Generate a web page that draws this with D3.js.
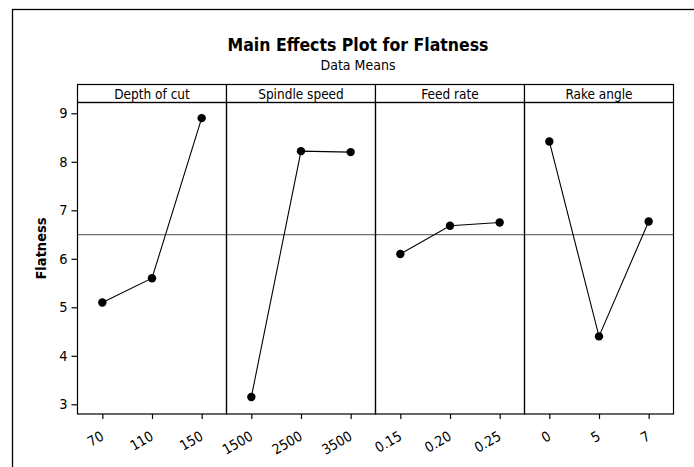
<!DOCTYPE html>
<html>
<head>
<meta charset="utf-8">
<script src="https://cdn.jsdelivr.net/npm/d3@7"></script>
<style>
  html, body { margin: 0; padding: 0; background: #fff; }
  svg { display: block; }
  text { font-family: "DejaVu Sans Condensed", "DejaVu Sans", sans-serif; fill: #000; }
</style>
</head>
<body>
<svg id="chart" width="694" height="467"></svg>
<script>
const factors = ["Depth of cut", "Spindle speed", "Feed rate", "Rake angle"];
const depthLevels = ["70", "110", "150"];
const spindleLevels = ["1500", "2500", "3500"];
const feedLevels = ["0.15", "0.20", "0.25"];
const rakeLevels = ["0", "5", "7"];
const depthMeans = [5.10, 5.60, 8.90];
const spindleMeans = [3.15, 8.22, 8.20];
const feedMeans = [6.10, 6.68, 6.75];
const rakeMeans = [8.42, 4.40, 6.77];
const grandMean = 6.5;
const yTicks = [3, 4, 5, 6, 7, 8, 9];

const title = "Main Effects Plot for Flatness";
const subtitle = "Data Means";
const yLabel = "Flatness";

const levels = [depthLevels, spindleLevels, feedLevels, rakeLevels];
const means = [depthMeans, spindleMeans, feedMeans, rakeMeans];
const FONT = "\"DejaVu Sans Condensed\", \"DejaVu Sans\", sans-serif";

const svg = d3.select("#chart");

// outer frame
svg.append("rect")
  .attr("x", 12.5).attr("y", 9.5)
  .attr("width", 692).attr("height", 500)
  .attr("fill", "none").attr("stroke", "#000").attr("stroke-width", 1.3);

svg.append("text")
  .attr("x", 358).attr("y", 50.5)
  .attr("text-anchor", "middle")
  .attr("font-size", 17.5).attr("font-weight", "bold")
  .text(title);
svg.append("text")
  .attr("x", 358).attr("y", 69.5)
  .attr("text-anchor", "middle")
  .attr("font-size", 14)
  .text(subtitle);

const left = 77.5, right = 673.5;
const headTop = 84.5, headBot = 102.5, plotBot = 414;
const pw = (right - left) / factors.length;

const y = d3.scaleLinear().domain([3, 9]).range([404.3, 113.3]);

// panel headers
factors.forEach((f, i) => {
  const x0 = left + i * pw;
  svg.append("rect")
    .attr("x", x0).attr("y", headTop)
    .attr("width", pw).attr("height", headBot - headTop)
    .attr("fill", "#fff").attr("stroke", "#000").attr("stroke-width", 1.2);
  svg.append("text")
    .attr("x", x0 + pw / 2).attr("y", headTop + 14)
    .attr("text-anchor", "middle")
    .attr("font-size", 13.5)
    .text(f);
});

// grand mean reference line
svg.append("line")
  .attr("x1", left).attr("x2", right)
  .attr("y1", y(grandMean)).attr("y2", y(grandMean))
  .attr("stroke", "#707070").attr("stroke-width", 1.2);

// panels
factors.forEach((f, i) => {
  const x0 = left + i * pw;
  const x = d3.scalePoint().domain(levels[i]).range([x0, x0 + pw]).padding(0.5);
  const data = levels[i].map((l, j) => ({ l, v: means[i][j] }));

  svg.append("path")
    .datum(data)
    .attr("fill", "none").attr("stroke", "#000").attr("stroke-width", 1.1)
    .attr("d", d3.line().x(d => x(d.l)).y(d => y(d.v)));

  svg.selectAll(null).data(data).enter().append("circle")
    .attr("cx", d => x(d.l)).attr("cy", d => y(d.v))
    .attr("r", 4.2).attr("fill", "#000");

  const ax = svg.append("g")
    .attr("transform", `translate(0,${plotBot})`)
    .call(d3.axisBottom(x).tickSize(5).tickSizeOuter(0));
  ax.select(".domain").remove();
  ax.selectAll(".tick line").attr("stroke", "#000").attr("stroke-width", 1.2);
  ax.selectAll(".tick text")
    .attr("font-size", 14)
    .attr("font-family", FONT)
    .attr("fill", "#000")
    .attr("text-anchor", "end")
    .attr("y", 0).attr("dy", 0)
    .attr("transform", "translate(2,25) rotate(-30)");
});

// panel frames
factors.forEach((f, i) => {
  const x0 = left + i * pw;
  svg.append("rect")
    .attr("x", x0).attr("y", headBot)
    .attr("width", pw).attr("height", plotBot - headBot)
    .attr("fill", "none").attr("stroke", "#000").attr("stroke-width", 1.2);
});

// y axis
const ay = svg.append("g")
  .attr("transform", `translate(${left},0)`)
  .call(d3.axisLeft(y).tickValues(yTicks).tickFormat(d3.format("d"))
    .tickSize(6).tickPadding(4).tickSizeOuter(0));
ay.select(".domain").remove();
ay.selectAll(".tick line").attr("stroke", "#000").attr("stroke-width", 1.2);
ay.selectAll(".tick text")
  .attr("font-size", 14.5)
  .attr("font-family", FONT)
  .attr("fill", "#000");

svg.append("text")
  .attr("transform", `translate(46,248.5) rotate(-90)`)
  .attr("text-anchor", "middle")
  .attr("font-size", 14.5).attr("font-weight", "bold")
  .text(yLabel);
</script>
</body>
</html>
